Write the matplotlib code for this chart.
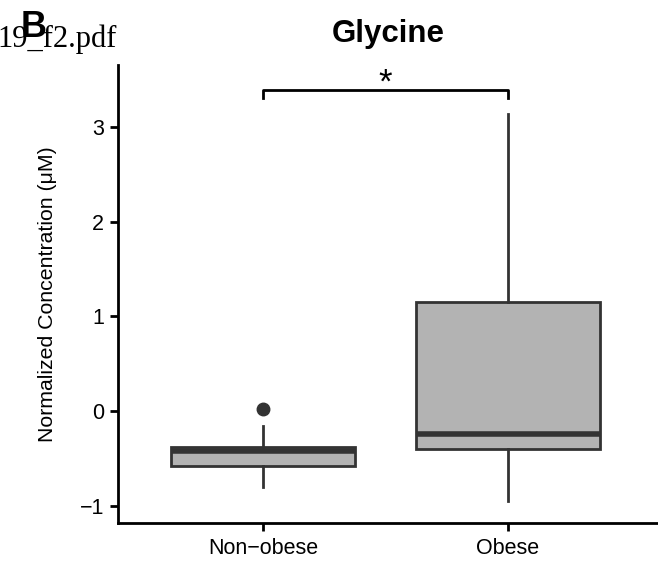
import matplotlib.pyplot as plt

plt.rcParams['font.family'] = ['Liberation Sans', 'DejaVu Sans']

# group summaries (normalized glycine, uM)
groups = ['Non\u2212obese', 'Obese']
q1 = [-0.58, -0.40]
med = [-0.42, -0.24]
q3 = [-0.38, 1.15]
whislo = [-0.80, -0.95]
whishi = [-0.16, 3.14]
fliers = [[0.02], []]

stats = []
for i in range(len(groups)):
    stats.append(dict(label=groups[i], q1=q1[i], med=med[i], q3=q3[i],
                      whislo=whislo[i], whishi=whishi[i], fliers=fliers[i]))

fig = plt.figure(figsize=(6.58, 5.65), dpi=100)
ax = fig.add_axes([0.1793, 0.0743, 0.8207, 0.8107])

edge = '#333333'
ax.bxp(stats, positions=[1, 2], widths=0.75, patch_artist=True, showcaps=False,
       boxprops=dict(facecolor='#b3b3b3', edgecolor=edge, linewidth=2),
       medianprops=dict(color=edge, linewidth=4, solid_capstyle='butt'),
       whiskerprops=dict(color=edge, linewidth=2),
       flierprops=dict(marker='o', markersize=9, markerfacecolor=edge,
                       markeredgecolor=edge))

ax.set_xlim(0.408, 2.612)
ax.set_ylim(-1.185, 3.66)
ax.set_yticks([-1, 0, 1, 2, 3])
ax.set_yticklabels(['\u22121', '0', '1', '2', '3'])

for s in ['top', 'right']:
    ax.spines[s].set_visible(False)
for s in ['left', 'bottom']:
    ax.spines[s].set_linewidth(2)
ax.tick_params(width=2, length=6, colors='black')
ax.tick_params(axis='y', labelsize=15.5, pad=4)
ax.tick_params(axis='x', labelsize=15.5, pad=5)
ax.set_ylabel('Normalized Concentration (\u03bcM)', fontsize=15.3, labelpad=16)

# significance bracket
ax.plot([1, 1, 2, 2], [3.31, 3.40, 3.40, 3.31], color='black', linewidth=2,
        clip_on=False)
ax.text(1.5, 3.29, '*', ha='center', va='bottom', fontsize=25)

fig.text(0.590, 0.940, 'Glycine', ha='center', va='center', fontsize=22.5,
         fontweight='bold')
fig.text(-0.004, 1 - 47 / 565, '19_f2.pdf', ha='left', va='baseline',
         fontsize=22, family=['Liberation Serif'])
fig.text(0.032, 0.952, 'B', ha='left', va='center', fontsize=26,
         fontweight='bold')

fig.savefig('out.png', dpi=100)
